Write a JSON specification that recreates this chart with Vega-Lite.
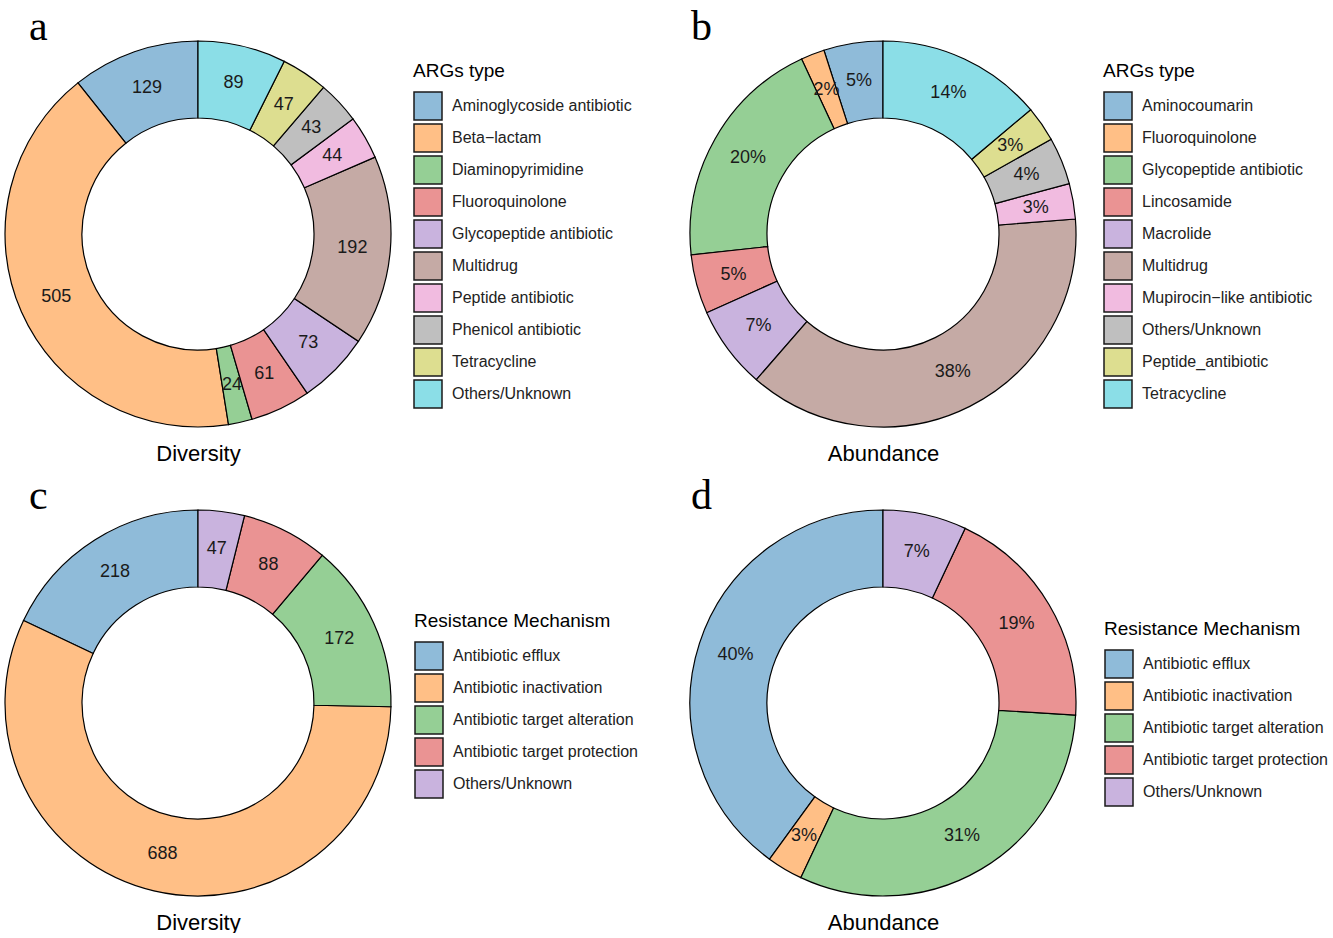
{
  "$schema": "https://vega.github.io/schema/vega-lite/v6.json",
  "padding": {"left": 2, "top": 5, "right": 0, "bottom": 0},
  "background": "white",
  "config": {
    "view": {"stroke": null},
    "font": "Liberation Sans",
    "legend": {
      "titleFontSize": 19,
      "titleFontWeight": "normal",
      "titleColor": "black",
      "titleFont": "Liberation Sans",
      "titleLimit": 400,
      "labelFontSize": 16,
      "labelColor": "#222222",
      "labelFont": "Liberation Sans",
      "labelLimit": 400,
      "symbolType": "square",
      "symbolSize": 784,
      "symbolStrokeColor": "#1a1a1a",
      "symbolStrokeWidth": 1.5,
      "symbolOpacity": 1,
      "rowPadding": -3,
      "labelOffset": 9,
      "titlePadding": 10,
      "padding": 0,
      "offset": 0
    },
    "axis": {
      "labels": false,
      "ticks": false,
      "domain": false,
      "grid": false,
      "titleFontSize": 22,
      "titleFontWeight": "normal",
      "titleColor": "black",
      "titleFont": "Liberation Sans",
      "titlePadding": 14
    }
  },
  "datasets": {
    "a": [
      {"idx": 1, "type": "Aminoglycoside antibiotic", "value": 129, "label": "129"},
      {"idx": 2, "type": "Beta−lactam", "value": 505, "label": "505"},
      {"idx": 3, "type": "Diaminopyrimidine", "value": 24, "label": "24"},
      {"idx": 4, "type": "Fluoroquinolone", "value": 61, "label": "61"},
      {"idx": 5, "type": "Glycopeptide antibiotic", "value": 73, "label": "73"},
      {"idx": 6, "type": "Multidrug", "value": 192, "label": "192"},
      {"idx": 7, "type": "Peptide antibiotic", "value": 44, "label": "44"},
      {"idx": 8, "type": "Phenicol antibiotic", "value": 43, "label": "43"},
      {"idx": 9, "type": "Tetracycline", "value": 47, "label": "47"},
      {"idx": 10, "type": "Others/Unknown", "value": 89, "label": "89"}
    ],
    "b": [
      {"idx": 1, "type": "Aminocoumarin", "value": 5, "label": "5%"},
      {"idx": 2, "type": "Fluoroquinolone", "value": 2, "label": "2%"},
      {"idx": 3, "type": "Glycopeptide antibiotic", "value": 20, "label": "20%"},
      {"idx": 4, "type": "Lincosamide", "value": 5, "label": "5%"},
      {"idx": 5, "type": "Macrolide", "value": 7, "label": "7%"},
      {"idx": 6, "type": "Multidrug", "value": 38, "label": "38%"},
      {"idx": 7, "type": "Mupirocin−like antibiotic", "value": 3, "label": "3%"},
      {"idx": 8, "type": "Others/Unknown", "value": 4, "label": "4%"},
      {"idx": 9, "type": "Peptide_antibiotic", "value": 3, "label": "3%"},
      {"idx": 10, "type": "Tetracycline", "value": 14, "label": "14%"}
    ],
    "c": [
      {"idx": 1, "type": "Antibiotic efflux", "value": 218, "label": "218"},
      {"idx": 2, "type": "Antibiotic inactivation", "value": 688, "label": "688"},
      {"idx": 3, "type": "Antibiotic target alteration", "value": 172, "label": "172"},
      {"idx": 4, "type": "Antibiotic target protection", "value": 88, "label": "88"},
      {"idx": 5, "type": "Others/Unknown", "value": 47, "label": "47"}
    ],
    "d": [
      {"idx": 1, "type": "Antibiotic efflux", "value": 40, "label": "40%"},
      {"idx": 2, "type": "Antibiotic inactivation", "value": 3, "label": "3%"},
      {"idx": 3, "type": "Antibiotic target alteration", "value": 31, "label": "31%"},
      {"idx": 4, "type": "Antibiotic target protection", "value": 19, "label": "19%"},
      {"idx": 5, "type": "Others/Unknown", "value": 7, "label": "7%"}
    ]
  },
  "columns": 2,
  "bounds": "flush",
  "spacing": {"row": 79, "column": 295},
  "resolve": {
    "scale": {"color": "independent", "theta": "independent", "x": "independent"},
    "legend": {"color": "independent"}
  },
  "concat": [
    {
      "title": {"text": "a", "anchor": "start", "frame": "group", "font": "Liberation Serif", "fontSize": 42, "fontWeight": "normal", "color": "black", "baseline": "alphabetic", "offset": -43, "dx": 26},
      "width": 390,
      "height": 390,
      "data": {"name": "a"},
      "layer": [
        {
          "mark": {"type": "arc", "innerRadius": 116, "outerRadius": 193, "stroke": "black", "strokeWidth": 1.2},
          "encoding": {
            "theta": {"field": "value", "type": "quantitative", "stack": true},
            "order": {"field": "idx", "type": "quantitative", "sort": "descending"},
            "color": {
              "field": "type", "type": "nominal",
              "scale": {
                "domain": ["Aminoglycoside antibiotic", "Beta−lactam", "Diaminopyrimidine", "Fluoroquinolone", "Glycopeptide antibiotic", "Multidrug", "Peptide antibiotic", "Phenicol antibiotic", "Tetracycline", "Others/Unknown"],
                "range": ["#8FBBD9", "#FFBF86", "#95CF95", "#EA9393", "#C9B3DE", "#C5AAA5", "#F1BBE0", "#BFBFBF", "#DDDE90", "#8BDEE7"]
              },
              "legend": {"title": "ARGs type", "orient": "none", "legendX": 410, "legendY": 23}
            }
          }
        },
        {
          "mark": {"type": "text", "radius": 155, "fontSize": 18, "fill": "#1a1a1a"},
          "encoding": {
            "theta": {"field": "value", "type": "quantitative", "stack": true},
            "order": {"field": "idx", "type": "quantitative", "sort": "descending"},
            "detail": {"field": "type", "type": "nominal"},
            "text": {"field": "label", "type": "nominal"}
          }
        },
        {
          "mark": {"type": "point", "opacity": 0},
          "encoding": {
            "x": {"field": "value", "type": "quantitative", "axis": {"title": "Diversity"}}
          }
        }
      ]
    },
    {
      "title": {"text": "b", "anchor": "start", "frame": "group", "font": "Liberation Serif", "fontSize": 42, "fontWeight": "normal", "color": "black", "baseline": "alphabetic", "offset": -43, "dx": 3},
      "width": 390,
      "height": 390,
      "data": {"name": "b"},
      "layer": [
        {
          "mark": {"type": "arc", "innerRadius": 116, "outerRadius": 193, "stroke": "black", "strokeWidth": 1.2},
          "encoding": {
            "theta": {"field": "value", "type": "quantitative", "stack": true},
            "order": {"field": "idx", "type": "quantitative", "sort": "descending"},
            "color": {
              "field": "type", "type": "nominal",
              "scale": {
                "domain": ["Aminocoumarin", "Fluoroquinolone", "Glycopeptide antibiotic", "Lincosamide", "Macrolide", "Multidrug", "Mupirocin−like antibiotic", "Others/Unknown", "Peptide_antibiotic", "Tetracycline"],
                "range": ["#8FBBD9", "#FFBF86", "#95CF95", "#EA9393", "#C9B3DE", "#C5AAA5", "#F1BBE0", "#BFBFBF", "#DDDE90", "#8BDEE7"]
              },
              "legend": {"title": "ARGs type", "orient": "none", "legendX": 415, "legendY": 23}
            }
          }
        },
        {
          "mark": {"type": "text", "radius": 155, "fontSize": 18, "fill": "#1a1a1a"},
          "encoding": {
            "theta": {"field": "value", "type": "quantitative", "stack": true},
            "order": {"field": "idx", "type": "quantitative", "sort": "descending"},
            "detail": {"field": "type", "type": "nominal"},
            "text": {"field": "label", "type": "nominal"}
          }
        },
        {
          "mark": {"type": "point", "opacity": 0},
          "encoding": {
            "x": {"field": "value", "type": "quantitative", "axis": {"title": "Abundance"}}
          }
        }
      ]
    },
    {
      "title": {"text": "c", "anchor": "start", "frame": "group", "font": "Liberation Serif", "fontSize": 42, "fontWeight": "normal", "color": "black", "baseline": "alphabetic", "offset": -43, "dx": 26},
      "width": 390,
      "height": 390,
      "data": {"name": "c"},
      "layer": [
        {
          "mark": {"type": "arc", "innerRadius": 116, "outerRadius": 193, "stroke": "black", "strokeWidth": 1.2},
          "encoding": {
            "theta": {"field": "value", "type": "quantitative", "stack": true},
            "order": {"field": "idx", "type": "quantitative", "sort": "descending"},
            "color": {
              "field": "type", "type": "nominal",
              "scale": {
                "domain": ["Antibiotic efflux", "Antibiotic inactivation", "Antibiotic target alteration", "Antibiotic target protection", "Others/Unknown"],
                "range": ["#8FBBD9", "#FFBF86", "#95CF95", "#EA9393", "#C9B3DE"]
              },
              "legend": {"title": "Resistance Mechanism", "orient": "none", "legendX": 411, "legendY": 104}
            }
          }
        },
        {
          "mark": {"type": "text", "radius": 155, "fontSize": 18, "fill": "#1a1a1a"},
          "encoding": {
            "theta": {"field": "value", "type": "quantitative", "stack": true},
            "order": {"field": "idx", "type": "quantitative", "sort": "descending"},
            "detail": {"field": "type", "type": "nominal"},
            "text": {"field": "label", "type": "nominal"}
          }
        },
        {
          "mark": {"type": "point", "opacity": 0},
          "encoding": {
            "x": {"field": "value", "type": "quantitative", "axis": {"title": "Diversity"}}
          }
        }
      ]
    },
    {
      "title": {"text": "d", "anchor": "start", "frame": "group", "font": "Liberation Serif", "fontSize": 42, "fontWeight": "normal", "color": "black", "baseline": "alphabetic", "offset": -43, "dx": 3},
      "width": 390,
      "height": 390,
      "data": {"name": "d"},
      "layer": [
        {
          "mark": {"type": "arc", "innerRadius": 116, "outerRadius": 193, "stroke": "black", "strokeWidth": 1.2},
          "encoding": {
            "theta": {"field": "value", "type": "quantitative", "stack": true},
            "order": {"field": "idx", "type": "quantitative", "sort": "descending"},
            "color": {
              "field": "type", "type": "nominal",
              "scale": {
                "domain": ["Antibiotic efflux", "Antibiotic inactivation", "Antibiotic target alteration", "Antibiotic target protection", "Others/Unknown"],
                "range": ["#8FBBD9", "#FFBF86", "#95CF95", "#EA9393", "#C9B3DE"]
              },
              "legend": {"title": "Resistance Mechanism", "orient": "none", "legendX": 416, "legendY": 112}
            }
          }
        },
        {
          "mark": {"type": "text", "radius": 155, "fontSize": 18, "fill": "#1a1a1a"},
          "encoding": {
            "theta": {"field": "value", "type": "quantitative", "stack": true},
            "order": {"field": "idx", "type": "quantitative", "sort": "descending"},
            "detail": {"field": "type", "type": "nominal"},
            "text": {"field": "label", "type": "nominal"}
          }
        },
        {
          "mark": {"type": "point", "opacity": 0},
          "encoding": {
            "x": {"field": "value", "type": "quantitative", "axis": {"title": "Abundance"}}
          }
        }
      ]
    }
  ]
}
